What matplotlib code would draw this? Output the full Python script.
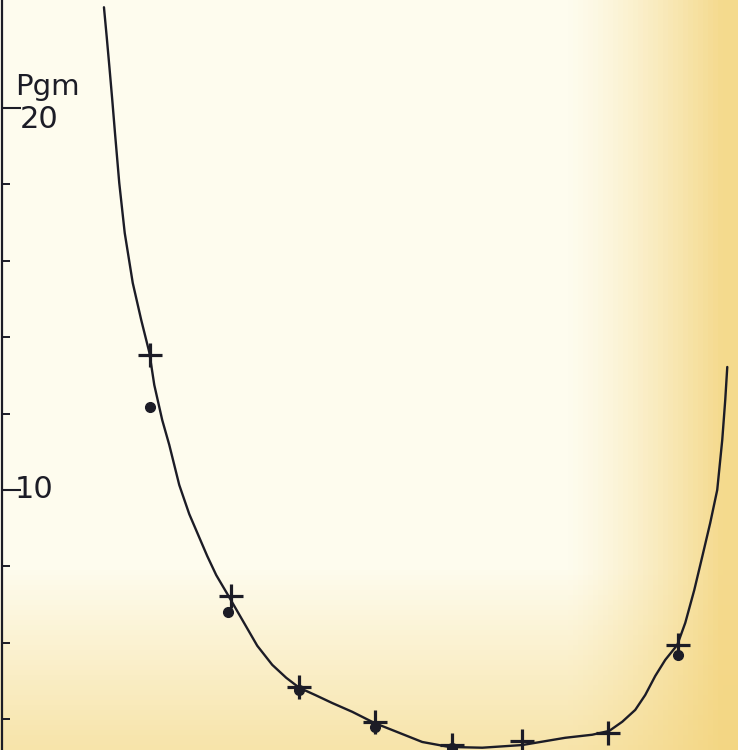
import matplotlib.pyplot as plt
import numpy as np

# measured points (x in arbitrary units, y in Pgm)
plus_x = [1.97, 3.05, 3.96, 4.97, 5.99, 6.93, 8.07, 9.01]
plus_y = [13.53, 7.23, 4.84, 3.93, 3.32, 3.43, 3.64, 5.94]
dot_x = [1.97, 3.01, 3.96, 4.97, 5.99, 9.01]
dot_y = [12.17, 6.81, 4.76, 3.80, 3.25, 5.68]

# hand drawn curve
curve_x = [1.356, 1.393, 1.429, 1.467, 1.503, 1.56, 1.633, 1.74, 1.853, 1.96,
           2.027, 2.133, 2.227, 2.36, 2.493, 2.613, 2.733, 2.853, 3.0, 3.2,
           3.4, 3.6, 3.787, 3.96, 4.173, 4.4, 4.667, 4.96, 5.293, 5.6,
           5.96, 6.4, 6.933, 7.507, 7.867, 8.093, 8.267, 8.44, 8.573, 8.707,
           8.84, 9.0, 9.107, 9.227, 9.333, 9.44, 9.533, 9.6, 9.64, 9.667]
curve_y = [22.64, 21.86, 21.07, 20.21, 19.35, 18.04, 16.73, 15.42, 14.45, 13.61,
           12.75, 11.83, 11.18, 10.13, 9.37, 8.82, 8.27, 7.77, 7.28, 6.60,
           5.92, 5.42, 5.08, 4.82, 4.63, 4.42, 4.19, 3.90, 3.64, 3.40,
           3.27, 3.25, 3.32, 3.51, 3.59, 3.69, 3.93, 4.24, 4.63, 5.13,
           5.55, 5.94, 6.52, 7.38, 8.25, 9.14, 10.00, 11.31, 12.36, 13.22]

ink = '#1c1c26'

fig = plt.figure(figsize=(7.38, 7.5), dpi=100)
ax = fig.add_axes([0, 0, 1, 1])

# paper background: cream turning yellow towards the right and bottom
h, w = 150, 148
xx, yy = np.meshgrid(np.linspace(0, 1, w), np.linspace(0, 1, h))
wr = np.clip((xx - 0.77) / 0.21, 0, 1) ** 1.3 * 0.85
wb = np.clip((yy - 0.76) / 0.24, 0, 1) * 0.6
wgt = 1 - (1 - wr) * (1 - wb)
cream = np.array([254, 252, 238]) / 255
yellow = np.array([243, 212, 125]) / 255
bg = cream[None, None, :] * (1 - wgt[..., None]) + yellow[None, None, :] * wgt[..., None]
ax.imshow(bg, extent=[0, 1, 0, 1], transform=ax.transAxes, aspect='auto', zorder=0)

ax.plot(curve_x, curve_y, color=ink, lw=1.7, zorder=2,
        solid_capstyle='round', solid_joinstyle='round')
ax.plot(plus_x, plus_y, ls='none', marker='+', ms=17, mew=2.3, color=ink, zorder=3)
ax.plot(dot_x, dot_y, ls='none', marker='o', ms=7, color=ink, zorder=3)

ax.set_xlim(-0.03, 9.81)
ax.set_ylim(3.19, 22.83)

for s in ['top', 'right', 'bottom']:
    ax.spines[s].set_visible(False)
ax.spines['left'].set_position(('data', 0.0))
ax.spines['left'].set_linewidth(1.6)
ax.spines['left'].set_color(ink)
ax.spines['left'].set_zorder(4)

ax.set_xticks([])
ax.set_yticks([10, 20])
ax.set_yticks(np.arange(4, 20, 2), minor=True)
ax.set_yticklabels([])
ax.tick_params(axis='y', which='major', direction='in', length=14, width=1.5, color=ink)
ax.tick_params(axis='y', which='minor', direction='in', length=6, width=1.4, color=ink)

ax.text(0.16, 10.0, '10', fontsize=22, color=ink, ha='left', va='center')
ax.text(0.24, 19.71, '20', fontsize=22, color=ink, ha='left', va='center')
ax.text(0.17, 20.18, 'Pgm', fontsize=21, color=ink, ha='left', va='bottom')

fig.savefig('out.png', dpi=100)
